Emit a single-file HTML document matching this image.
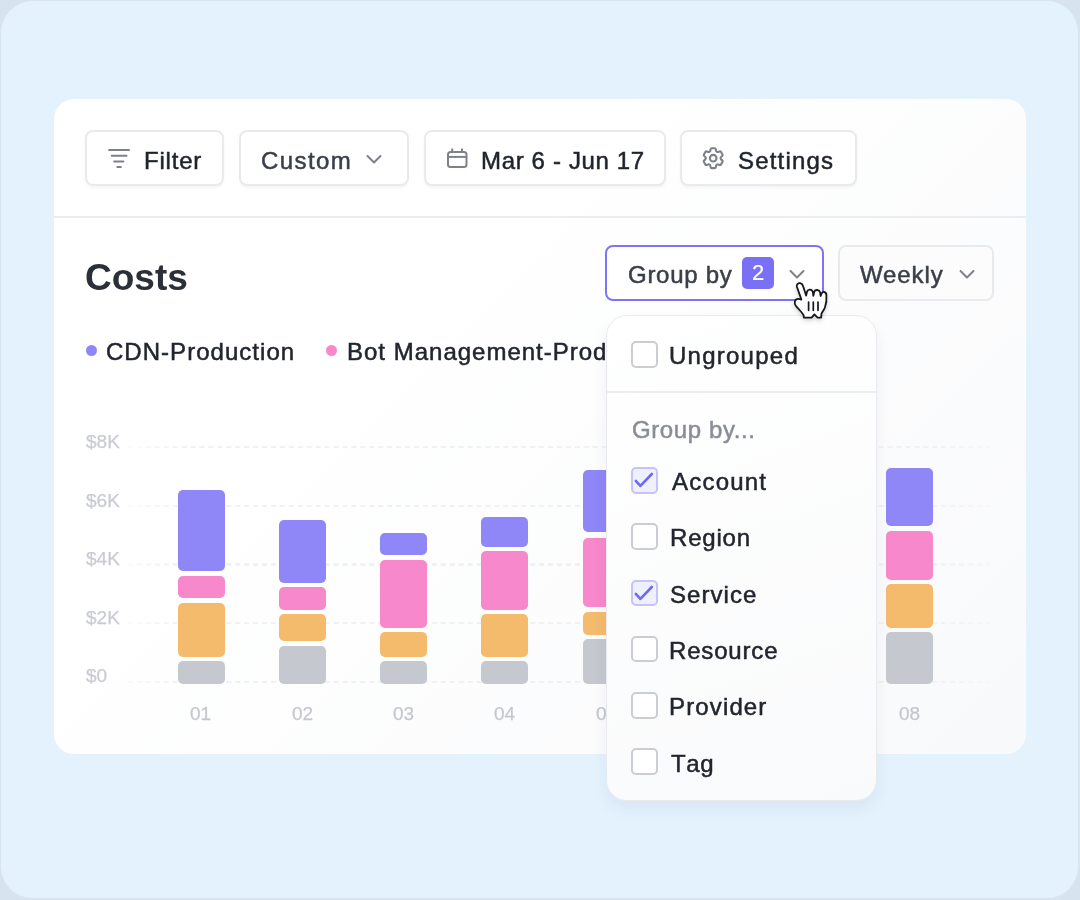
<!DOCTYPE html>
<html><head><meta charset="utf-8">
<style>
*{box-sizing:border-box;margin:0;padding:0}
html,body{width:1080px;height:900px;overflow:hidden;background:#D7E3EE;font-family:"Liberation Sans",sans-serif;-webkit-font-smoothing:antialiased}
.t,.it,.ylab,.xlab{will-change:transform;-webkit-text-stroke:0.5px currentColor}
.ylab,.xlab{-webkit-text-stroke:0.25px currentColor}
.frame{position:absolute;left:0;top:0;width:1080px;height:900px;border-radius:33px;background:#E4F2FE;border:solid #D8E4F0;border-width:1px 2px 2px 1px}
.card{position:absolute;left:54px;top:99px;width:972px;height:655px;border-radius:20px;background:linear-gradient(135deg,#FFFFFF 35%,#F8F9FB 100%)}
.btn{position:absolute;top:130px;height:56px;border:2px solid #E9EAED;border-radius:8px;background:#fff;box-shadow:0 2px 3px rgba(20,30,60,0.04)}
.t{position:absolute;white-space:nowrap;font-size:24px;line-height:28px}
.divider{position:absolute;left:54px;top:216px;width:972px;height:2px;background:#ECEDF0}
.dot{position:absolute;width:11px;height:11px;border-radius:50%}
.ylab{position:absolute;left:86px;font-size:19px;color:#C9CBD2;line-height:20px}
.grid{position:absolute;left:128px;width:862px;height:2.5px;background-image:linear-gradient(90deg,#F0F1F4 0 4.7px,transparent 4.7px 8.94px);background-size:8.94px 2.5px;-webkit-mask-image:linear-gradient(90deg,rgba(0,0,0,0.25) 0,#000 60px,#000 800px,rgba(0,0,0,0.3) 100%)}
.seg{position:absolute;width:47px;border-radius:5px}
.p{background:#8F86F8}.k{background:#F788CB}.o{background:#F5BB6C}.g{background:#C6C8CF}
.xlab{position:absolute;top:704px;font-size:19px;color:#C5C7CD;line-height:20px;width:47px;text-align:center}
.dd{position:absolute;left:606px;top:315px;width:271px;height:486px;border-radius:21px;background:linear-gradient(160deg,#FFFFFF 0%,#F9FAFB 100%);border:1px solid #E9EAED;box-shadow:0 8px 16px rgba(30,50,90,0.06)}
.cb{position:absolute;left:631.3px;width:26.5px;height:26.5px;border:2px solid #CBCDD3;border-radius:5px;background:#fff}
.cb.on{border-color:#C6C2FA;background:#EEF1FD}
.it{position:absolute;left:670px;font-size:24px;color:#22252D;line-height:28px;white-space:nowrap}
</style></head><body>
<div class="frame"></div>
<div class="card"></div>

<!-- toolbar -->
<div class="btn" style="left:85px;width:139px"></div>
<svg style="position:absolute;left:106px;top:146px" width="28" height="24" viewBox="0 0 28 24">
<g stroke="#7E818A" stroke-width="2" stroke-linecap="round">
<line x1="3.1" y1="3.9" x2="23" y2="3.9"/><line x1="5.7" y1="9.8" x2="20.5" y2="9.8"/><line x1="8.2" y1="15.4" x2="17.4" y2="15.4"/><line x1="11.3" y1="21" x2="14.9" y2="21"/></g></svg>
<div class="t" style="letter-spacing:0.8px;left:144.0px;top:146.5px;color:#1F232B">Filter</div>

<div class="btn" style="left:239px;width:170px"></div>
<div class="t" style="letter-spacing:1.4px;left:261px;top:146.5px;color:#3A3E48">Custom</div>
<svg style="position:absolute;left:364px;top:152px" width="20" height="14" viewBox="0 0 20 14"><path d="M3.5 4 L10 10.5 L16.5 4" fill="none" stroke="#7E818A" stroke-width="2" stroke-linecap="round" stroke-linejoin="round"/></svg>

<div class="btn" style="left:424px;width:242px"></div>
<svg style="position:absolute;left:445px;top:147px" width="24" height="24" viewBox="0 0 24 24"><g fill="none" stroke="#7E818A" stroke-width="2"><rect x="3" y="5" width="18.5" height="15" rx="2.5"/><line x1="3" y1="9.9" x2="21.5" y2="9.9"/><line x1="7.2" y1="1.5" x2="7.2" y2="5"/><line x1="17" y1="1.5" x2="17" y2="5"/></g></svg>
<div class="t" style="letter-spacing:0.65px;left:480.5px;top:146.5px;color:#1F232B">Mar 6 - Jun 17</div>

<div class="btn" style="left:680px;width:177px"></div>
<svg style="position:absolute;left:700.1px;top:145.2px" width="26.4" height="26.4" viewBox="0 0 24 24"><g fill="none" stroke="#7E818A" stroke-width="1.9" stroke-linecap="round" stroke-linejoin="round"><path d="M9.594 3.94c.09-.542.56-.94 1.11-.94h2.593c.55 0 1.02.398 1.11.94l.213 1.281c.063.374.313.686.645.87.074.04.147.083.22.127.325.196.72.257 1.075.124l1.217-.456a1.125 1.125 0 0 1 1.37.49l1.296 2.247a1.125 1.125 0 0 1-.26 1.431l-1.003.827c-.293.241-.438.613-.43.992a7.723 7.723 0 0 1 0 .255c-.008.378.137.75.43.991l1.004.827c.424.35.534.955.26 1.43l-1.298 2.247a1.125 1.125 0 0 1-1.369.491l-1.217-.456c-.355-.133-.75-.072-1.076.124a6.47 6.470 0 0 1-.22.128c-.331.183-.581.495-.644.869l-.213 1.281c-.09.543-.56.94-1.11.94h-2.594c-.55 0-1.019-.398-1.11-.94l-.213-1.281c-.062-.374-.312-.686-.644-.87a6.52 6.52 0 0 1-.22-.127c-.325-.196-.72-.257-1.076-.124l-1.217.456a1.125 1.125 0 0 1-1.369-.49l-1.297-2.247a1.125 1.125 0 0 1 .26-1.431l1.004-.827c.292-.24.437-.613.43-.991a6.932 6.932 0 0 1 0-.255c.007-.38-.138-.751-.43-.992l-1.004-.827a1.125 1.125 0 0 1-.26-1.43l1.297-2.247a1.125 1.125 0 0 1 1.37-.491l1.216.456c.356.133.751.072 1.076-.124.072-.044.146-.086.22-.128.332-.183.582-.495.644-.869l.214-1.28Z"/><path d="M15 12a3 3 0 1 1-6 0 3 3 0 0 1 6 0Z"/></g></svg>
<div class="t" style="letter-spacing:1.19px;left:738px;top:146.5px;color:#1F232B">Settings</div>

<div class="divider"></div>

<!-- header -->
<div class="t" style="letter-spacing:0px;left:85px;top:257px;font-size:37px;line-height:42px;font-weight:bold;color:#2B2F38;-webkit-text-stroke:0">Costs</div>

<div class="btn" style="left:605px;top:245px;width:219px;border-color:#7D74F6;background:#fff;box-shadow:none"></div>
<div class="t" style="letter-spacing:0.72px;left:628px;top:261px;color:#3A3E48">Group by</div>
<div style="position:absolute;left:742px;top:257px;width:32px;height:32px;border-radius:5px;background:#7A70F5"></div>
<div class="t" style="left:742px;top:259px;width:32px;text-align:center;color:#fff;font-size:22px;-webkit-text-stroke:0.2px #fff">2</div>
<svg style="position:absolute;left:786.5px;top:267px" width="20" height="14" viewBox="0 0 20 14"><path d="M3.5 4 L10 10.5 L16.5 4" fill="none" stroke="#7E818A" stroke-width="2" stroke-linecap="round" stroke-linejoin="round"/></svg>

<div class="btn" style="left:838px;top:245px;width:156px;box-shadow:none;background:#FCFCFD"></div>
<div class="t" style="letter-spacing:0.9px;left:860px;top:261px;color:#3A3E48">Weekly</div>
<svg style="position:absolute;left:957px;top:266.5px" width="20" height="14" viewBox="0 0 20 14"><path d="M3.5 4 L10 10.5 L16.5 4" fill="none" stroke="#7E818A" stroke-width="2" stroke-linecap="round" stroke-linejoin="round"/></svg>

<!-- legend -->
<div class="dot" style="left:85.5px;top:344.5px;background:#8F86F8"></div>
<div class="t" style="letter-spacing:1.03px;left:106px;top:337.5px;color:#22252D">CDN-Production</div>
<div class="dot" style="left:325.8px;top:344.5px;background:#F788CB"></div>
<div class="t" style="letter-spacing:1.0px;left:347px;top:337.5px;color:#22252D">Bot Management-Production</div>

<!-- chart -->
<div class="ylab" style="top:432px">$8K</div>
<div class="ylab" style="top:491px">$6K</div>
<div class="ylab" style="top:549px">$4K</div>
<div class="ylab" style="top:608px">$2K</div>
<div class="ylab" style="top:666px">$0</div>
<div class="grid" style="top:445.8px"></div>
<div class="grid" style="top:504.5px"></div>
<div class="grid" style="top:563.2px"></div>
<div class="grid" style="top:621.9px"></div>
<div class="grid" style="top:680.6px"></div>

<!-- bar 01 -->
<div class="seg p" style="left:178px;top:490px;height:81px"></div>
<div class="seg k" style="left:178px;top:576px;height:22px"></div>
<div class="seg o" style="left:178px;top:603px;height:54px"></div>
<div class="seg g" style="left:178px;top:661px;height:23px"></div>
<!-- bar 02 -->
<div class="seg p" style="left:279px;top:520px;height:63px"></div>
<div class="seg k" style="left:279px;top:587px;height:23px"></div>
<div class="seg o" style="left:279px;top:614px;height:27px"></div>
<div class="seg g" style="left:279px;top:646px;height:38px"></div>
<!-- bar 03 -->
<div class="seg p" style="left:380px;top:533px;height:22px"></div>
<div class="seg k" style="left:380px;top:560px;height:68px"></div>
<div class="seg o" style="left:380px;top:632px;height:25px"></div>
<div class="seg g" style="left:380px;top:661px;height:23px"></div>
<!-- bar 04 -->
<div class="seg p" style="left:481px;top:517px;height:30px"></div>
<div class="seg k" style="left:481px;top:551px;height:59px"></div>
<div class="seg o" style="left:481px;top:614px;height:43px"></div>
<div class="seg g" style="left:481px;top:661px;height:23px"></div>
<!-- bar 05 -->
<div class="seg p" style="left:583px;top:470px;height:62px"></div>
<div class="seg k" style="left:583px;top:538px;height:69px"></div>
<div class="seg o" style="left:583px;top:612px;height:23px"></div>
<div class="seg g" style="left:583px;top:639px;height:45px"></div>
<!-- bar 08 -->
<div class="seg p" style="left:886px;top:468px;height:58px"></div>
<div class="seg k" style="left:886px;top:531px;height:49px"></div>
<div class="seg o" style="left:886px;top:584px;height:44px"></div>
<div class="seg g" style="left:886px;top:632px;height:52px"></div>

<div class="xlab" style="left:176.5px">01</div>
<div class="xlab" style="left:278.5px">02</div>
<div class="xlab" style="left:380px">03</div>
<div class="xlab" style="left:481px">04</div>
<div class="xlab" style="left:583px">05</div>
<div class="xlab" style="left:886px">08</div>

<!-- dropdown -->
<div class="dd"></div>
<div class="cb" style="top:341.1px"></div>
<div class="it" style="left:669px;letter-spacing:1.25px;top:342px">Ungrouped</div>
<div style="position:absolute;left:607px;top:391px;width:269px;height:2px;background:#ECEDF0"></div>
<div class="it" style="letter-spacing:0.6px;left:632.0px;top:416px;color:#8A8D96">Group by...</div>

<div class="cb on" style="top:467.1px"></div>
<svg style="position:absolute;left:631.3px;top:467.1px" width="26" height="26" viewBox="0 0 26 26"><path d="M4.8 13.9 L9.4 18.9 L20.8 7" fill="none" stroke="#7068F2" stroke-width="2.6" stroke-linecap="round" stroke-linejoin="round"/></svg>
<div class="it" style="left:671.5px;letter-spacing:1.22px;top:468px">Account</div>

<div class="cb" style="top:523.3px"></div>
<div class="it" style="left:669.6px;letter-spacing:0.8px;top:524px">Region</div>

<div class="cb on" style="top:579.5px"></div>
<svg style="position:absolute;left:631.3px;top:579.5px" width="26" height="26" viewBox="0 0 26 26"><path d="M4.8 13.9 L9.4 18.9 L20.8 7" fill="none" stroke="#7068F2" stroke-width="2.6" stroke-linecap="round" stroke-linejoin="round"/></svg>
<div class="it" style="letter-spacing:1.05px;top:581px">Service</div>

<div class="cb" style="top:635.8px"></div>
<div class="it" style="left:669.2px;letter-spacing:0.83px;top:637px">Resource</div>

<div class="cb" style="top:692px"></div>
<div class="it" style="left:669.2px;letter-spacing:1.14px;top:693px">Provider</div>

<div class="cb" style="top:748.2px"></div>
<div class="it" style="left:671px;letter-spacing:0.6px;font-kerning:none;top:750px">Tag</div>

<!-- cursor -->
<svg style="position:absolute;left:785px;top:275px;filter:drop-shadow(0 2px 2px rgba(0,0,0,0.18))" width="50" height="50" viewBox="0 0 50 50">
<path d="M16.4 24.6 L11.9 11.8 C11.2 9.4 13 8 15 8.2 C16.8 8.5 17.7 9.8 18.2 11.5 L21.1 20.6 L22.1 16.6 C22.7 14.9 24 14.5 25 14.6 C26.6 14.8 27.6 15.8 27.9 17.2 L28.3 20.8 L29.3 16.8 C29.8 15.4 31 14.9 32.2 15 C33.8 15.2 34.8 16.2 35.2 17.6 L35.6 21 L36.6 18.6 C37.2 17.3 38.2 16.8 39.2 17 C40.6 17.3 41.3 18.4 41.4 20 C41.7 24 41.4 28.5 40 32.2 C39 35 37.2 36.8 36.5 38.6 L36.1 42.6 L32.6 42.6 L29.4 39.4 L26.6 42.6 L18.9 42.6 L18.5 40 C16.5 36.8 13.5 34 11.1 31.1 C9.9 29.6 9.5 27.6 9.9 26.2 C10.4 24.6 11.8 23.9 13.3 23.9 C14.6 23.9 15.6 24.2 16.4 24.6 Z" fill="#fff" stroke="#15171B" stroke-width="1.8" stroke-linejoin="round"/>
<g stroke="#15171B" stroke-width="1.7" stroke-linecap="round"><line x1="23.6" y1="27" x2="23.6" y2="35.3"/><line x1="28.3" y1="27" x2="28.3" y2="35.3"/><line x1="33" y1="27" x2="33" y2="35.3"/></g>
</svg>
</body></html>
